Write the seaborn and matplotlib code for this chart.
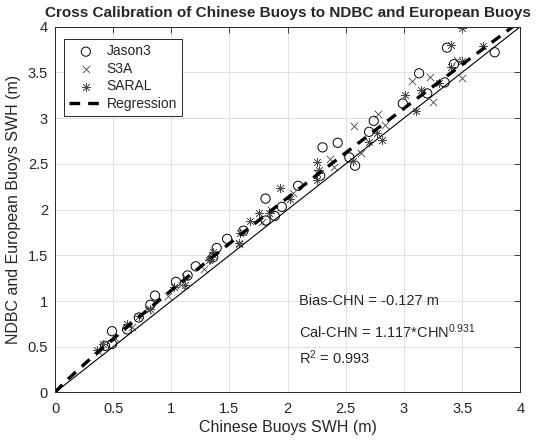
import numpy as np
import pandas as pd
import matplotlib
matplotlib.use("Agg")
import matplotlib.pyplot as plt
import seaborn as sns

# values
jason_x = [0.43, 0.49, 0.49, 0.62, 0.72, 0.82, 0.86, 1.04, 1.14, 1.21, 1.36, 1.39, 1.48,
           1.62, 1.81, 1.81, 1.89, 1.95, 2.09, 2.28, 2.30, 2.43, 2.53, 2.58, 2.70, 2.74,
           2.99, 3.13, 3.20, 3.35, 3.37, 3.43, 3.78]
jason_y = [0.51, 0.53, 0.67, 0.69, 0.82, 0.96, 1.06, 1.21, 1.28, 1.38, 1.48, 1.58, 1.68,
           1.77, 1.88, 2.12, 1.93, 2.03, 2.26, 2.37, 2.68, 2.73, 2.57, 2.48, 2.85, 2.97,
           3.16, 3.49, 3.27, 3.39, 3.77, 3.59, 3.72]

s3a_x = [0.38, 0.52, 0.66, 0.80, 0.97, 1.08, 1.12, 1.28, 1.36, 1.58, 1.62, 1.78, 1.86,
         2.05, 2.25, 2.36, 2.40, 2.57, 2.63, 2.78, 2.84, 3.07, 3.22, 3.25, 3.46, 3.50]
s3a_y = [0.44, 0.60, 0.72, 0.90, 1.05, 1.18, 1.26, 1.35, 1.50, 1.62, 1.76, 1.86, 2.00,
         2.18, 2.40, 2.55, 2.47, 2.91, 2.62, 3.05, 2.92, 3.41, 3.45, 3.18, 3.63, 3.44]

saral_x = [0.36, 0.41, 0.62, 0.72, 0.82, 1.02, 1.12, 1.32, 1.33, 1.36, 1.58, 1.59, 1.68,
           1.75, 1.84, 1.93, 2.02, 2.25, 2.25, 2.27, 2.56, 2.70, 2.77, 2.81, 3.01, 3.10,
           3.15, 3.30, 3.40, 3.40, 3.50, 3.50, 3.68]
saral_y = [0.47, 0.53, 0.75, 0.84, 0.91, 1.15, 1.18, 1.45, 1.46, 1.54, 1.63, 1.74, 1.87,
           1.96, 1.96, 2.24, 2.12, 2.52, 2.32, 2.43, 2.53, 2.74, 2.84, 2.76, 3.25, 3.08,
           3.31, 3.38, 3.80, 3.56, 3.62, 3.98, 3.79]

# regression from the chart's own equation
reg_coef = 1.117
reg_expo = 0.931
bias = -0.127
r2 = 0.993

ticks = [0, 0.5, 1, 1.5, 2, 2.5, 3, 3.5, 4]
tick_labels = ['0', '0.5', '1', '1.5', '2', '2.5', '3', '3.5', '4']

sns.set_style("whitegrid")
plt.rcParams['font.family'] = ['Liberation Sans', 'DejaVu Sans']
plt.rcParams['mathtext.default'] = 'regular'
plt.rcParams['xtick.direction'] = 'in'
plt.rcParams['ytick.direction'] = 'in'

fig = plt.figure(figsize=(5.5, 4.44), dpi=100)
ax = fig.add_axes([0.1, 0.116, 0.846, 0.824])

sns.scatterplot(x=jason_x, y=jason_y, ax=ax, marker='o', s=44,
                facecolors='none', edgecolor='black', linewidth=0.7, label='Jason3')
sns.scatterplot(x=s3a_x, y=s3a_y, ax=ax, marker='x', s=28,
                color='#444444', linewidth=0.6, label='S3A')
sns.scatterplot(x=saral_x, y=saral_y, ax=ax, marker=(8, 2, 0), s=36,
                color='#4a4a4a', edgecolor='#4a4a4a', linewidth=0.5, label='SARAL')

reg = pd.DataFrame({'x': np.linspace(0, 4, 200)})
reg['y'] = reg_coef * reg['x'] ** reg_expo
sns.lineplot(data=reg, x='x', y='y', ax=ax, color='black', linewidth=2.4,
             linestyle=(0, (3.2, 2.4)), label='Regression')
ax.axline((0, 0), slope=1, color='black', linewidth=0.8)

ax.set_xlim(0, 4)
ax.set_ylim(0, 4)
ax.set_xticks(ticks)
ax.set_yticks(ticks)
ax.set_xticklabels(tick_labels)
ax.set_yticklabels(tick_labels)
ax.tick_params(labelsize=10.5, colors='#262626', length=4, width=0.6,
               top=True, right=True)
ax.tick_params(axis='x', pad=7)
ax.tick_params(axis='y', pad=5)
ax.grid(color='#e2e2e2', linewidth=0.7)
for sp in ax.spines.values():
    sp.set_color('#262626')
    sp.set_linewidth(0.7)

ax.set_xlabel('Chinese Buoys SWH (m)', fontsize=11.5, color='#262626', labelpad=3)
ax.set_ylabel('NDBC and European Buoys SWH (m)', fontsize=11.5, color='#262626', labelpad=5)
ax.set_title('Cross Calibration of Chinese Buoys to NDBC and European Buoys',
             fontsize=11, fontweight='bold', pad=7)

ax.text(2.1, 1.0, f'Bias-CHN = {bias} m', fontsize=10.5, va='center')
ax.text(2.1, 0.66, f'Cal-CHN = {reg_coef}*CHN$^{{{reg_expo}}}$', fontsize=10.5, va='center')
ax.text(2.1, 0.385, f'R$^2$ = {r2}', fontsize=10.5, va='center')

leg = ax.legend(loc='upper left', bbox_to_anchor=(0.02, 0.965), fontsize=10,
                frameon=True, fancybox=False, edgecolor='#262626', framealpha=1,
                handlelength=2.4, handletextpad=0.3, borderpad=0.35, labelspacing=0.25,
                borderaxespad=0)
leg.get_frame().set_linewidth(0.7)

fig.savefig('out.png', dpi=100)
